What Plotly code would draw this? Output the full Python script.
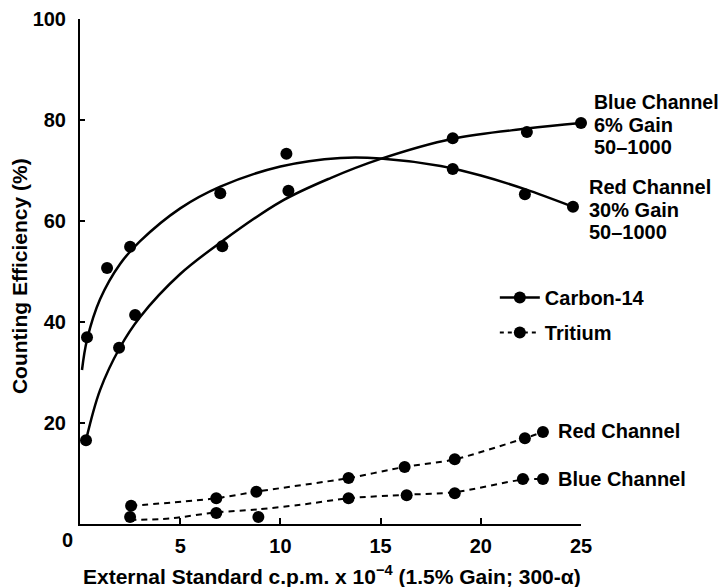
import plotly.graph_objects as go

# ---- data ----
# Carbon-14, Red channel (30% gain) measured points
c14_red_x = [0.35, 1.35, 2.5, 7.0, 10.3, 18.6, 22.2, 24.6]
c14_red_y = [37.0, 50.7, 54.9, 65.5, 73.3, 70.3, 65.3, 62.8]
# Carbon-14, Red channel fitted curve
c14_red_fit_x = [0.1, 0.35, 1.0, 2.0, 3.0, 5.0, 7.0, 10.0, 13.0, 15.0, 18.0, 20.0, 22.2, 24.6]
c14_red_fit_y = [30.5, 36.5, 44.5, 51.5, 56.0, 62.5, 66.8, 70.8, 72.5, 72.4, 70.9, 69.0, 66.3, 62.8]

# Carbon-14, Blue channel (6% gain) measured points
c14_blue_x = [0.3, 1.95, 2.75, 7.1, 10.4, 18.6, 22.3, 25.0]
c14_blue_y = [16.6, 34.9, 41.4, 55.0, 66.0, 76.4, 77.6, 79.4]
# Carbon-14, Blue channel fitted curve
c14_blue_fit_x = [0.3, 1.0, 2.0, 3.0, 5.0, 7.1, 10.0, 12.5, 15.0, 18.6, 22.3, 25.0]
c14_blue_fit_y = [16.6, 26.5, 35.0, 41.0, 49.5, 56.0, 63.8, 68.5, 72.3, 76.3, 78.3, 79.4]

# Tritium, Red channel points (line drawn through them)
h3_red_x = [2.55, 6.8, 8.8, 13.4, 16.2, 18.7, 22.2, 23.1]
h3_red_y = [3.6, 5.1, 6.4, 9.1, 11.3, 12.8, 17.0, 18.2]

# Tritium, Blue channel points
h3_blue_x = [2.5, 6.8, 8.9, 13.4, 16.3, 18.7, 22.1, 23.1]
h3_blue_y = [1.4, 2.2, 1.4, 5.1, 5.7, 6.1, 8.9, 8.9]
# Tritium, Blue channel fitted dashed curve
h3_blue_fit_x = [2.5, 4.5, 6.8, 8.9, 11.0, 13.4, 16.3, 18.7, 22.1, 23.1]
h3_blue_fit_y = [0.8, 1.1, 2.3, 2.9, 3.8, 5.1, 5.8, 6.3, 8.8, 8.9]

x_ticks = [5, 10, 15, 20, 25]
y_ticks = [20, 40, 60, 80, 100]

FONT = "Liberation Sans, Arial, sans-serif"
BLACK = "#000000"
MS = 12

fig = go.Figure()

# fitted curves
fig.add_trace(go.Scatter(x=c14_red_fit_x, y=c14_red_fit_y, mode="lines",
                         line=dict(color=BLACK, width=2.5, shape="spline", smoothing=1.0),
                         showlegend=False, hoverinfo="skip", cliponaxis=False))
fig.add_trace(go.Scatter(x=c14_blue_fit_x, y=c14_blue_fit_y, mode="lines",
                         line=dict(color=BLACK, width=2.5, shape="spline", smoothing=1.0),
                         showlegend=False, hoverinfo="skip", cliponaxis=False))
fig.add_trace(go.Scatter(x=h3_red_x, y=h3_red_y, mode="lines",
                         line=dict(color=BLACK, width=2, dash="6px,5px", shape="spline", smoothing=0.8),
                         showlegend=False, hoverinfo="skip", cliponaxis=False))
fig.add_trace(go.Scatter(x=h3_blue_fit_x, y=h3_blue_fit_y, mode="lines",
                         line=dict(color=BLACK, width=2, dash="6px,5px", shape="spline", smoothing=0.8),
                         showlegend=False, hoverinfo="skip", cliponaxis=False))

# measured points
for xs, ys in [(c14_red_x, c14_red_y), (c14_blue_x, c14_blue_y),
               (h3_red_x, h3_red_y), (h3_blue_x, h3_blue_y)]:
    fig.add_trace(go.Scatter(x=xs, y=ys, mode="markers",
                             marker=dict(color=BLACK, size=MS, symbol="circle"),
                             showlegend=False, cliponaxis=False))

# legend entries
fig.add_trace(go.Scatter(x=[None], y=[None], mode="lines+markers", name="<b>Carbon-14</b>",
                         legendgroup="c14",
                         line=dict(color=BLACK, width=2.5),
                         marker=dict(color=BLACK, size=MS)))
fig.add_trace(go.Scatter(x=[None], y=[None], mode="lines+markers", name="<b>Tritium</b>",
                         legendgroup="h3",
                         line=dict(color=BLACK, width=2, dash="4px,4px"),
                         marker=dict(color=BLACK, size=MS)))


def label(x, y, text, xshift, yshift, size=20):
    return dict(x=x, y=y, xref="x", yref="y", xshift=xshift, yshift=yshift,
                text=f"<b>{text}</b>", showarrow=False, xanchor="left",
                yanchor="middle", align="left",
                font=dict(family=FONT, size=size, color=BLACK))


annotations = [
    label(25.0, 79.4, "Blue Channel", 11, 21, size=19.5),
    label(25.0, 79.4, "6% Gain", 11, -2),
    label(25.0, 79.4, "50\u20131000", 11, -24),
    label(24.6, 62.8, "Red Channel", 14, 20),
    label(24.6, 62.8, "30% Gain", 14, -3),
    label(24.6, 62.8, "50\u20131000", 14, -25),
    label(23.1, 18.2, "Red Channel", 13, 1),
    label(23.1, 8.9, "Blue Channel", 13, 0),
    dict(x=0, y=0, xref="x", yref="y", xshift=-13, yshift=-16,
         text="<b>0</b>", showarrow=False, xanchor="center", yanchor="middle",
         font=dict(family=FONT, size=20, color=BLACK)),
    dict(x=0.503, y=0, xref="paper", yref="paper", yshift=-51,
         text="<b>External Standard c.p.m. x 10<sup>\u22124</sup> (1.5% Gain; 300-\u03b1)</b>",
         showarrow=False, xanchor="center", yanchor="middle",
         font=dict(family=FONT, size=21, color=BLACK)),
    dict(x=0, y=0.491, xref="paper", yref="paper", xshift=-61, textangle=-90,
         text="<b>Counting Efficiency (%)</b>",
         showarrow=False, xanchor="center", yanchor="middle",
         font=dict(family=FONT, size=21, color=BLACK)),
]

fig.update_layout(
    width=718, height=579,
    margin=dict(l=72, r=145, t=11, b=63, autoexpand=False),
    paper_bgcolor="white", plot_bgcolor="white",
    font=dict(family=FONT, size=20, color=BLACK),
    showlegend=True,
    legend=dict(x=0.828, y=0.487, xanchor="left", yanchor="top",
                bgcolor="rgba(0,0,0,0)", borderwidth=0, itemwidth=40,
                tracegroupgap=6,
                font=dict(family=FONT, size=20, color=BLACK)),
    annotations=annotations,
)
fig.update_xaxes(range=[0, 25], tickvals=x_ticks, ticktext=[f"<b>{v}</b>" for v in x_ticks],
                 automargin=False,
                 showgrid=False, zeroline=False, showline=True, linecolor=BLACK, linewidth=2,
                 ticks="inside", ticklen=6, tickwidth=1.5, tickcolor=BLACK,
                 ticklabelstandoff=3, tickfont=dict(family=FONT, size=20, color=BLACK))
fig.update_yaxes(range=[0, 100], tickvals=y_ticks, ticktext=[f"<b>{v}</b>" for v in y_ticks],
                 automargin=False,
                 showgrid=False, zeroline=False, showline=True, linecolor=BLACK, linewidth=2,
                 ticks="inside", ticklen=5, tickwidth=1.5, tickcolor=BLACK,
                 ticklabelstandoff=8, tickfont=dict(family=FONT, size=20, color=BLACK))

fig.write_html("out.html")
